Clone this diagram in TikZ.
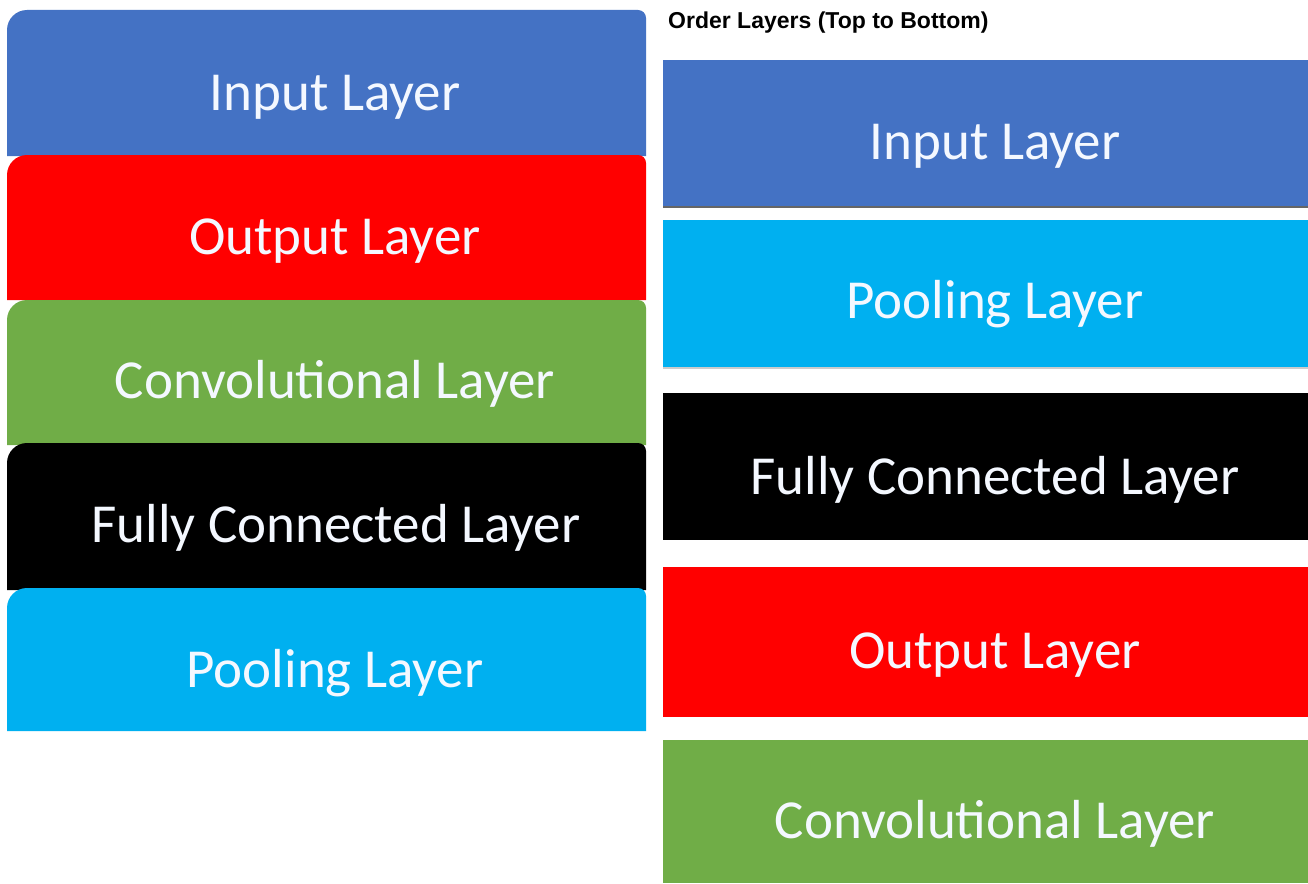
\documentclass[tikz,border=0pt]{standalone}
\usepackage{fontspec}
\setmainfont{Carlito}
\newfontfamily\titlefont{Liberation Sans}
\definecolor{cBlue}{HTML}{4472C4}
\definecolor{cRed}{HTML}{FF0000}
\definecolor{cGreen}{HTML}{70AD47}
\definecolor{cBlack}{HTML}{000000}
\definecolor{cCyan}{HTML}{00B0F0}
\definecolor{cText}{HTML}{F4F8FF}
\begin{document}
\begin{tikzpicture}[x=1pt,y=-1pt,
  lbl/.style={anchor=base,text=cText,font=\fontsize{55}{62}\selectfont,inner sep=0pt}]
\useasboundingbox (0,0) rectangle (1308,883);
\fill[white] (0,0) rectangle (1308,883);
% left stack (rounded top corners)
\newcommand\lbox[3]{%
  \fill[#1] (7,#3) [rounded corners=20pt] -- (7,#2) [rounded corners=8pt] -- (646,#2) [sharp corners] -- (646,#3) -- cycle;}
\lbox{cBlue}{10}{156}
\lbox{cRed}{155}{300}
\lbox{cGreen}{300}{445}
\lbox{cBlack}{443}{590}
\lbox{cCyan}{588}{731}
\node[lbl] (lin) at (335,110) {Input Layer};
\node[lbl] (lout) at (335,254) {Output Layer};
\node[lbl] (lconv) at (335,398) {Convolutional Layer};
\node[lbl] (lfc) at (336,542) {Fully Connected Layer};
\node[lbl] (lpool) at (335,687) {Pooling Layer};
% right stack
\node[anchor=base west,inner sep=0pt,font=\titlefont\bfseries\fontsize{23}{27}\selectfont] (title) at (668,29) {Order Layers (Top to Bottom)};
\fill[cBlue] (663,60) rectangle (1308,207);
\draw[black!60,line width=1.5pt] (663,207) -- (1308,207);
\fill[cCyan] (663,220) rectangle (1308,368);
\draw[black!20,line width=1.5pt] (663,368) -- (1308,368);
\fill[cBlack] (663,393) rectangle (1308,540);
\fill[cRed] (663,567) rectangle (1308,717);
\fill[cGreen] (663,740) rectangle (1308,883);
\node[lbl] (rin) at (995,159) {Input Layer};
\node[lbl] (rpool) at (995,318) {Pooling Layer};
\node[lbl] (rfc) at (995,494) {Fully Connected Layer};
\node[lbl] (rout) at (995,668) {Output Layer};
\node[lbl] (rconv) at (995,838) {Convolutional Layer};
\end{tikzpicture}
\end{document}
